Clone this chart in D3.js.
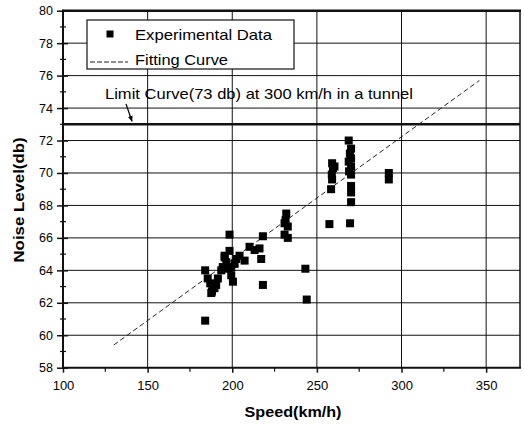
<!DOCTYPE html>
<html>
<head>
<meta charset="utf-8">
<script src="https://cdn.jsdelivr.net/npm/d3@7"></script>
<style>
  html, body { margin: 0; padding: 0; background: #fff; }
  svg { display: block; font-family: "Liberation Sans", Arial, sans-serif; }
</style>
</head>
<body>
<svg id="chart" width="524" height="425"></svg>
<script>
// ---- data ----
const speed = [184, 184, 185.5, 187, 188.6, 190.5, 188, 189.5, 187.6, 191.5, 193.5, 195.5, 196.5, 198.4, 197.4, 199.4, 200.4, 201.4, 202.4, 204.3, 207.3, 198.4, 194.4, 199.4, 195.5,
  210.2, 213.2, 216.1, 217.1, 218.1, 218.1,
  231.9, 230.9, 232.8, 231.5, 230.9, 232.8, 243.2, 244,
  268.8, 270.2, 269.5, 270.2, 268.8, 270.2, 269, 270.2, 270.2, 270.2, 270.2, 269.6,
  257.4, 258.4, 259, 259.5, 258.8, 259, 260.4, 292.5, 292.5];
const noise = [60.9, 64.0, 63.5, 63.2, 63.1, 63.1, 62.7, 62.9, 62.6, 63.5, 64.0, 64.9, 64.5, 65.2, 64.1, 63.7, 63.3, 64.4, 64.7, 64.9, 64.6, 66.2, 64.2, 64.2, 64.8,
  65.45, 65.25, 65.35, 64.7, 66.1, 63.1,
  67.5, 66.9, 66.7, 67.1, 66.2, 66.0, 64.1, 62.2,
  72.0, 71.5, 71.2, 70.9, 70.7, 70.4, 70.1, 69.9, 69.2, 68.8, 68.2, 66.9,
  66.85, 69.0, 70.6, 70.3, 69.9, 69.6, 70.4, 70.0, 69.6];
const fitSpeed = [130, 346];
const fitNoise = [59.4, 75.7];
const limitNoise = 73;
const xTicks = [100, 150, 200, 250, 300, 350];
const xMinor = [125, 175, 225, 275, 325];
const yTicks = [58, 60, 62, 64, 66, 68, 70, 72, 74, 76, 78, 80];
const yMinor = [59, 61, 63, 65, 67, 69, 71, 73, 75, 77, 79];
const legendLabels = ["Experimental Data", "Fitting Curve"];
const annotation = "Limit Curve(73 db) at 300 km/h in a tunnel";
const xTitle = "Speed(km/h)";
const yTitle = "Noise Level(db)";

// ---- scales ----
const L = 63, R = 520, T = 10.7, B = 367.7;
const x = d3.scaleLinear().domain([100, 370]).range([L, R]);
const y = d3.scaleLinear().domain([58, 80]).range([B, T]);
const svg = d3.select("#chart");
const ink = "#111";

// gridlines
svg.append("g").selectAll("line").data(xTicks.slice(1)).join("line")
  .attr("x1", d => x(d)).attr("x2", d => x(d)).attr("y1", T).attr("y2", B)
  .attr("stroke", ink).attr("stroke-width", 1);
svg.append("g").selectAll("line").data(yTicks.slice(1, -1)).join("line")
  .attr("x1", L).attr("x2", R).attr("y1", d => y(d)).attr("y2", d => y(d))
  .attr("stroke", ink).attr("stroke-width", 1);

// limit line
svg.append("line").attr("x1", L).attr("x2", R)
  .attr("y1", y(limitNoise)).attr("y2", y(limitNoise))
  .attr("stroke", ink).attr("stroke-width", 2.5);

// fit line
svg.append("line")
  .attr("x1", x(fitSpeed[0])).attr("y1", y(fitNoise[0]))
  .attr("x2", x(fitSpeed[1])).attr("y2", y(fitNoise[1]))
  .attr("stroke", "#222").attr("stroke-width", 1).attr("stroke-dasharray", "5,3");

// points
const sq = 8;
svg.append("g").selectAll("rect").data(speed.map((s, i) => [s, noise[i]])).join("rect")
  .attr("x", d => x(d[0]) - sq / 2).attr("y", d => y(d[1]) - sq / 2)
  .attr("width", sq).attr("height", sq).attr("fill", "#000");

// frame
svg.append("line").attr("x1", L - 1).attr("x2", R + 1).attr("y1", T).attr("y2", T).attr("stroke", ink).attr("stroke-width", 2.5);
svg.append("line").attr("x1", R).attr("x2", R).attr("y1", T).attr("y2", B).attr("stroke", ink).attr("stroke-width", 1.5);

// axes
const xAxis = svg.append("g").attr("transform", `translate(0,${B})`)
  .call(d3.axisBottom(x).tickValues(xTicks).tickSize(5).tickPadding(8).tickFormat(d3.format("d")));
xAxis.select(".domain").attr("stroke", ink).attr("stroke-width", 2).attr("d", `M${L - 1},0H${R + 1}`);
xAxis.selectAll(".tick line").attr("stroke", ink).attr("stroke-width", 1.5);
xAxis.selectAll("text").attr("font-size", 13).attr("fill", "#000").attr("font-family", "Liberation Sans, Arial, sans-serif");
xAxis.selectAll(".minor").data(xMinor).join("line").attr("class", "minor")
  .attr("x1", d => x(d)).attr("x2", d => x(d)).attr("y1", 0).attr("y2", 4)
  .attr("stroke", ink).attr("stroke-width", 1.2);

const yAxis = svg.append("g").attr("transform", `translate(${L},0)`)
  .call(d3.axisLeft(y).tickValues(yTicks).tickSize(6).tickPadding(4).tickFormat(d3.format("d")));
yAxis.select(".domain").attr("stroke", ink).attr("stroke-width", 2).attr("d", `M0,${T - 1}V${B + 1}`);
yAxis.selectAll(".tick line").attr("stroke", ink).attr("stroke-width", 1.5).attr("x2", 5).attr("x1", -6);
yAxis.selectAll("text").attr("font-size", 12.5).attr("fill", "#000").attr("font-family", "Liberation Sans, Arial, sans-serif");
yAxis.selectAll(".minor").data(yMinor).join("line").attr("class", "minor")
  .attr("x1", -3).attr("x2", 3).attr("y1", d => y(d)).attr("y2", d => y(d))
  .attr("stroke", ink).attr("stroke-width", 1.2);

// legend
const lg = svg.append("g");
lg.append("rect").attr("x", 87).attr("y", 20).attr("width", 207).attr("height", 49)
  .attr("fill", "#fff").attr("stroke", ink).attr("stroke-width", 1.2);
lg.append("rect").attr("x", 110 - 3.5).attr("y", 34 - 3.5).attr("width", 7).attr("height", 7).attr("fill", "#000");
lg.append("line").attr("x1", 90).attr("x2", 128).attr("y1", 62).attr("y2", 62)
  .attr("stroke", "#222").attr("stroke-width", 1).attr("stroke-dasharray", "5,2");
lg.selectAll("text").data(legendLabels).join("text")
  .attr("x", 135).attr("y", (d, i) => i === 0 ? 39.5 : 65)
  .attr("font-size", 15).attr("fill", "#000")
  .attr("textLength", (d, i) => i === 0 ? 137 : 93).attr("lengthAdjust", "spacingAndGlyphs")
  .text(d => d);

// annotation
svg.append("text").attr("x", 105).attr("y", 99).attr("font-size", 15).attr("fill", "#000")
  .attr("textLength", 308).attr("lengthAdjust", "spacingAndGlyphs").text(annotation);
svg.append("defs").append("marker").attr("id", "ah").attr("viewBox", "0 0 10 10")
  .attr("refX", 9).attr("refY", 5).attr("markerWidth", 5).attr("markerHeight", 6).attr("orient", "auto")
  .append("path").attr("d", "M0,1L10,5L0,9Z").attr("fill", "#000");
svg.append("line").attr("x1", 126).attr("y1", 104).attr("x2", 132).attr("y2", y(limitNoise) - 3)
  .attr("stroke", "#000").attr("stroke-width", 1.2).attr("marker-end", "url(#ah)");

// titles
svg.append("text").attr("x", 293).attr("y", 417).attr("text-anchor", "middle")
  .attr("font-size", 15).attr("font-weight", "bold").attr("fill", "#000")
  .attr("textLength", 97).attr("lengthAdjust", "spacingAndGlyphs").text(xTitle);
svg.append("text").attr("transform", "translate(24,200) rotate(-90)").attr("text-anchor", "middle")
  .attr("font-size", 15).attr("font-weight", "bold").attr("fill", "#000")
  .attr("textLength", 125).attr("lengthAdjust", "spacingAndGlyphs").text(yTitle);
</script>
</body>
</html>
